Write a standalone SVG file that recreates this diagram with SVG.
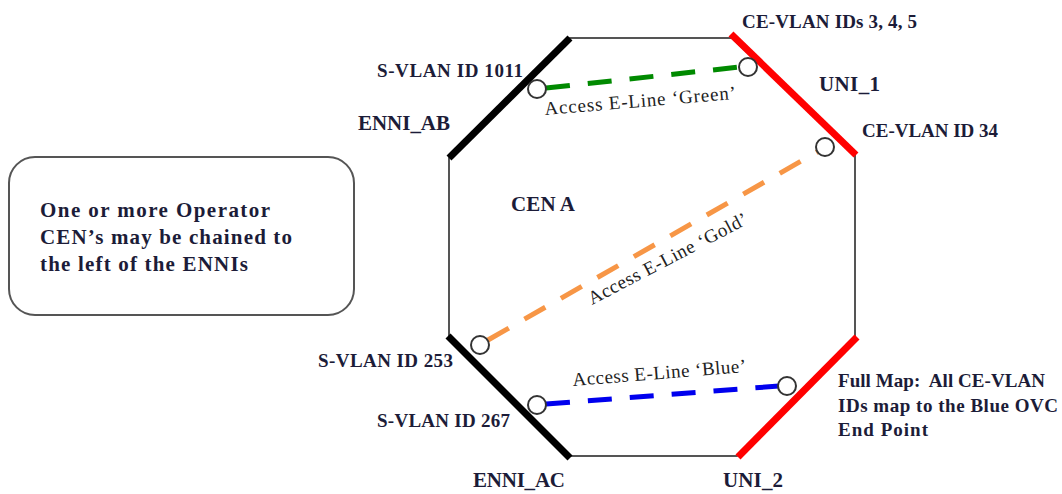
<svg xmlns="http://www.w3.org/2000/svg" width="1062" height="494" viewBox="0 0 1062 494">
<style>
.lbl{font-family:"Liberation Serif",serif;font-weight:bold;fill:#1c1c38;font-size:19px}
.big{font-size:21px}
.acc{font-family:"Liberation Serif",serif;fill:#222;font-size:19px}
.thin{fill:none;stroke:#555;stroke-width:2}
.thick{stroke-width:7;stroke-linecap:butt}
.ep{fill:#fff;stroke:#333;stroke-width:2}
.dash{fill:none;stroke-width:5;stroke-dasharray:24 18}
</style>
<rect width="1062" height="494" fill="#fff"/>
<g id="note">
<rect x="9" y="157" width="345" height="158" rx="26" fill="#fff" stroke="#555" stroke-width="2"/>
<text class="lbl big" x="40" y="217" textLength="230">One or more Operator</text>
<text class="lbl big" x="40" y="244" textLength="252">CEN’s may be chained to</text>
<text class="lbl big" x="40" y="271" textLength="208">the left of the ENNIs</text>
</g>
<g id="cen_a">
<polygon class="thin" points="449,158 570,38 732,38 855,155 855,336 737,456 569,456 449,336"/>
<text class="lbl big" x="511" y="211" textLength="64">CEN A</text>
</g>
<g id="enni_ab">
<line class="thick" x1="449" y1="158" x2="570" y2="38" stroke="#000"/>
<text class="lbl big" x="358" y="130" textLength="92">ENNI_AB</text>
<text class="lbl" x="377" y="77" textLength="146">S-VLAN ID 1011</text>
</g>
<g id="enni_ac">
<line class="thick" x1="448" y1="336" x2="570" y2="458" stroke="#000"/>
<text class="lbl big" x="473" y="487" textLength="92">ENNI_AC</text>
<text class="lbl" x="318" y="367" textLength="135">S-VLAN ID 253</text>
<text class="lbl" x="377" y="427" textLength="133">S-VLAN ID 267</text>
</g>
<g id="uni_1">
<line class="thick" x1="731" y1="34" x2="856" y2="155" stroke="#ff0000"/>
<text class="lbl big" x="819" y="91" textLength="61">UNI_1</text>
<text class="lbl" x="742" y="28" textLength="175">CE-VLAN IDs 3, 4, 5</text>
<text class="lbl" x="862" y="137" textLength="136">CE-VLAN ID 34</text>
</g>
<g id="uni_2">
<line class="thick" x1="857" y1="337" x2="738" y2="457" stroke="#ff0000"/>
<text class="lbl big" x="723" y="487" textLength="60">UNI_2</text>
<text class="lbl" x="838" y="387" textLength="207" xml:space="preserve">Full Map:  All CE-VLAN</text>
<text class="lbl" x="838" y="412" textLength="220">IDs map to the Blue OVC</text>
<text class="lbl" x="838" y="436" textLength="90">End Point</text>
</g>
<g id="connectors">
<line class="dash" x1="546" y1="88" x2="740" y2="67" stroke="#008a00"/>
<line class="dash" x1="488" y1="340" x2="817" y2="152" stroke="#f79646" stroke-width="6"/>
<line class="dash" x1="546" y1="404" x2="779" y2="386" stroke="#0000ee"/>
<text class="acc" x="0" y="0" transform="translate(545,115) rotate(-4.8)" textLength="192">Access E-Line ‘Green’</text>
<text class="acc" x="0" y="0" transform="translate(592,305) rotate(-27.5)" textLength="177">Access E-Line ‘Gold’</text>
<text class="acc" x="0" y="0" transform="translate(573,386) rotate(-4.6)" textLength="174">Access E-Line ‘Blue’</text>
</g>
<g id="endpoints">
<circle class="ep" cx="537" cy="89" r="9"/>
<circle class="ep" cx="748" cy="67" r="9"/>
<circle class="ep" cx="825" cy="147" r="9"/>
<circle class="ep" cx="480" cy="345" r="9"/>
<circle class="ep" cx="537" cy="405" r="9"/>
<circle class="ep" cx="787" cy="386" r="9"/>
</g>
</svg>
